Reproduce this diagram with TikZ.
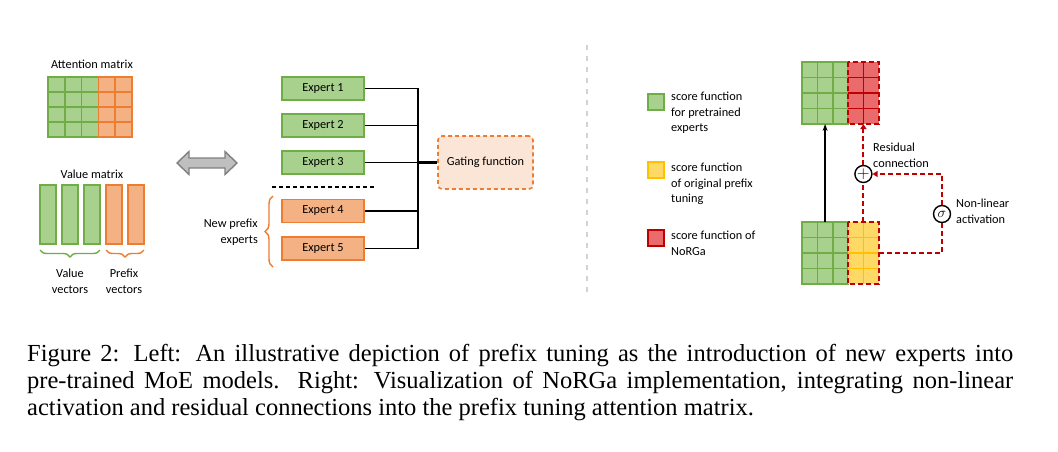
\documentclass[tikz,border=0pt]{standalone}
\usepackage{fontspec}
\setmainfont{Liberation Serif}
\newfontfamily\cbfont{Carlito}
\usetikzlibrary{arrows.meta,decorations.pathreplacing}
\definecolor{gfill}{HTML}{A9D18E}
\definecolor{gline}{HTML}{70AD47}
\definecolor{ofill}{HTML}{F4B183}
\definecolor{oline}{HTML}{ED7D31}
\definecolor{gatefill}{HTML}{FBE5D6}
\definecolor{rfill}{HTML}{EA6B6B}
\definecolor{rline}{HTML}{C00000}
\definecolor{yfill}{HTML}{FFD966}
\definecolor{yline}{HTML}{FFC000}
\begin{document}
\begin{tikzpicture}[x=1pt,y=-1pt,
    lbl/.style={font=\cbfont\fontsize{12.3}{15.6}\selectfont, inner sep=0pt},
    gcell/.style={fill=gfill, draw=gline, line width=1.6pt},
    ocell/.style={fill=ofill, draw=oline, line width=1.6pt},
    expertG/.style={lbl, fill=gfill, draw=gline, line width=1.6pt, minimum width=82pt, minimum height=23pt},
    expertO/.style={expertG, fill=ofill, draw=oline},
    mbox/.style={minimum width=77pt, minimum height=62pt, inner sep=0pt, outer sep=0pt},
    reddash/.style={draw=rline, line width=2pt, dash pattern=on 5pt off 3pt},
    opnode/.style={circle, draw, line width=1.4pt, minimum size=17pt, inner sep=0pt, fill=white},
    tip/.style={-{Triangle[length=5pt,width=6pt]}}]
    \useasboundingbox (0,0) rectangle (1058,451);

    \node[lbl] (attn) at (92,64) {Attention matrix};
    \foreach \c in {0,1,2} \foreach \r in {0,...,3}
        \draw[gcell] ({48+16.8*\c},{77+15*\r}) rectangle ++(16.8,15);
    \foreach \c in {3,4} \foreach \r in {0,...,3}
        \draw[ocell] ({48+16.8*\c},{77+15*\r}) rectangle ++(16.8,15);

    \node[lbl] (val) at (92,174) {Value matrix};
    \foreach \x in {40,62,84} \draw[gcell] (\x,185) rectangle ++(16,59);
    \foreach \x in {106,128} \draw[ocell] (\x,185) rectangle ++(16,59);
    \draw[gline, line width=1.4pt, decorate, decoration={brace, mirror, amplitude=7pt}] (40,250) -- (100,250);
    \draw[oline, line width=1.4pt, decorate, decoration={brace, mirror, amplitude=7pt}] (106,250) -- (144,250);
    \node[lbl, align=center] (vv) at (70,281) {Value\\vectors};
    \node[lbl, align=center] (pv) at (124,281) {Prefix\\vectors};

    \draw[fill=gray!50, draw=gray, line width=1.4pt] (177,163) -- (189,151.5) -- (189,158) -- (225,158) -- (225,151.5)
        -- (237,163) -- (225,174.5) -- (225,168) -- (189,168) -- (189,174.5) -- cycle;

    \node[expertG] (e1) at (323,88.5) {Expert 1};
    \node[expertG] (e2) at (323,125.5) {Expert 2};
    \node[expertG] (e3) at (323,162.5) {Expert 3};
    \node[expertO] (e4) at (323,211) {Expert 4};
    \node[expertO] (e5) at (323,248.5) {Expert 5};
    \node[lbl, fill=gatefill, draw=oline, line width=1.6pt, dash pattern=on 4pt off 3pt, rounded corners=4pt,
        minimum width=95pt, minimum height=53pt] (gate) at (485.5,162.5) {Gating function};
    \coordinate (bus) at (418,162.5);
    \draw[line width=1.6pt] (e1.east) -- (e1.east -| bus) -- (e5.east -| bus) -- (e5.east);
    \foreach \e in {e2,e3,e4} \draw[line width=1.6pt] (\e.east) -- (\e.east -| bus);
    \draw[line width=3pt] (bus) -- (gate.west);
    \draw[line width=1.8pt, dash pattern=on 4pt off 3pt] (272,187) -- (376,187);
    \draw[oline, line width=1.4pt, decorate, decoration={brace, amplitude=8pt}] (273,267) -- (273,196);
    \node[lbl, align=right, anchor=east] (npe) at (258,232) {New prefix\\experts};

    \draw[gray!35, line width=1.4pt, dash pattern=on 5pt off 6pt] (587,45) -- (587,295);

    \draw[fill=gfill, draw=gline, line width=1.6pt] (648,94) rectangle ++(16,16);
    \draw[fill=yfill, draw=yline, line width=1.6pt] (648,162) rectangle ++(16,16);
    \draw[fill=rfill, draw=rline, line width=1.6pt] (648,230) rectangle ++(16,16);
    \node[lbl, align=left, anchor=north west] (lg1) at (671,91.7) {score function\\for pretrained\\experts};
    \node[lbl, align=left, anchor=north west] (lg2) at (671,163) {score function\\of original prefix\\tuning};
    \node[lbl, align=left, anchor=north west] (lg3) at (671,230.7) {score function of\\NoRGa};

    \node[mbox] (top) at (840.5,93) {};
    \node[mbox] (bot) at (840.5,253) {};
    \foreach \m in {top,bot} \foreach \c in {0,1,2} \foreach \r in {0,...,3}
        \draw[gcell] ([xshift={15.4pt*\c}, yshift={-15.5pt*\r}]\m.north west) rectangle ++(15.4,15.5);
    \fill[rfill] ([xshift=46.2pt]top.north west) rectangle (top.south east);
    \fill[yfill] ([xshift=46.2pt]bot.north west) rectangle (bot.south east);
    \draw[rline, line width=1.6pt] ([xshift=61.6pt]top.north west) -- ([xshift=61.6pt]top.south west);
    \draw[yline, line width=1.6pt] ([xshift=61.6pt]bot.north west) -- ([xshift=61.6pt]bot.south west);
    \foreach \r in {1,2,3} {
        \draw[rline, line width=1.6pt] ([xshift=46.2pt, yshift={-15.5pt*\r}]top.north west) -- ([yshift={-15.5pt*\r}]top.north east);
        \draw[yline, line width=1.6pt] ([xshift=46.2pt, yshift={-15.5pt*\r}]bot.north west) -- ([yshift={-15.5pt*\r}]bot.north east);
    }
    \draw[reddash] ([xshift=46.2pt]top.north west) rectangle (top.south east);
    \draw[reddash] ([xshift=46.2pt]bot.north west) rectangle (bot.south east);

    \node[opnode, font=\fontsize{17}{17}\selectfont] (plus) at (863.4,174) {$+$};
    \node[opnode, font=\fontsize{15}{15}\selectfont] (sig) at (942,214) {$\sigma$};
    \draw[line width=1.4pt, -{Stealth[length=7pt,width=5pt]}] ([xshift=23.1pt]bot.north west) -- ([xshift=23.1pt]top.south west);
    \draw[reddash] (bot.north -| plus) -- (plus.south);
    \draw[reddash, tip] (plus.north) -- (top.south -| plus);
    \draw[reddash] (bot.east) -| (sig.south);
    \draw[reddash, tip] (sig.north) |- (plus.east);
    \node[lbl, align=left, anchor=west] (res) at (873,155.5) {Residual\\connection};
    \node[lbl, align=left, anchor=west] (act) at (956,211.5) {Non-linear\\activation};

    \node[anchor=north west, inner sep=0pt, text width=986pt, align=justify, font=\fontsize{24.5}{26.8}\selectfont] (cap) at (27,344.3)
        {\hyphenpenalty=10000 Figure 2: Left: An illustrative depiction of prefix tuning as the introduction of new experts into pre-trained MoE models. Right: Visualization of NoRGa implementation, integrating non-linear\linebreak activation and residual connections into the prefix tuning attention matrix.};
\end{tikzpicture}
\end{document}
